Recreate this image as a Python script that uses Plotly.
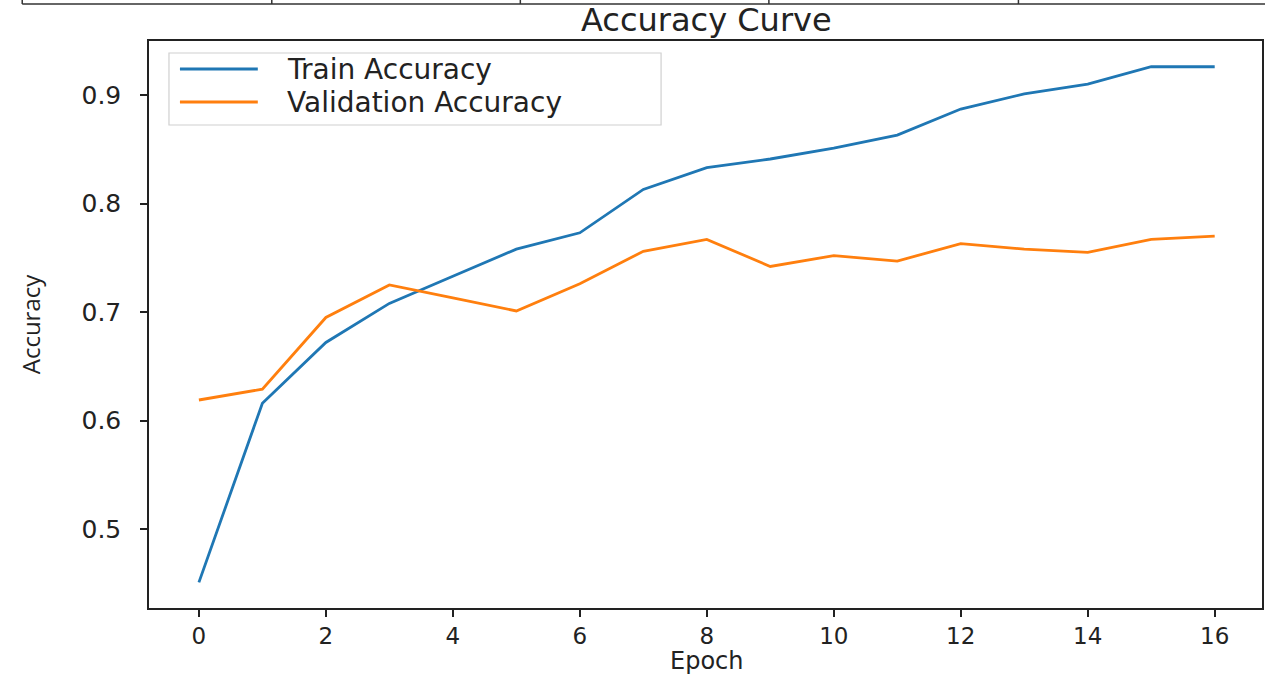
import plotly.graph_objects as go

epochs = list(range(17))
train_acc = [0.451, 0.616, 0.672, 0.708, 0.733, 0.758, 0.773, 0.813, 0.833, 0.841,
             0.851, 0.863, 0.887, 0.901, 0.910, 0.926, 0.926]
val_acc = [0.619, 0.629, 0.695, 0.725, 0.713, 0.701, 0.726, 0.756, 0.767, 0.742,
           0.752, 0.747, 0.763, 0.758, 0.755, 0.767, 0.770]
series_names = ["Train Accuracy", "Validation Accuracy"]
series_colors = ["#1f77b4", "#ff7f0e"]
x_ticks = list(range(0, 17, 2))
y_ticks = [0.5, 0.6, 0.7, 0.8, 0.9]

W, H = 1267, 677
L, R, T, B = 149, 3, 41, 69
PW, PH = W - L - R, H - T - B


def px(x):
    return (x - L) / PW


def py(y):
    return (H - B - y) / PH


fig = go.Figure()
for name, ys, col in zip(series_names, [train_acc, val_acc], series_colors):
    fig.add_trace(go.Scatter(x=epochs, y=ys, mode="lines", name=name,
                             line=dict(color=col, width=2.8), showlegend=False))

shapes = []
annotations = []

# custom legend (matplotlib style)
shapes.append(dict(type="rect", xref="paper", yref="paper",
                   x0=px(169), x1=px(662), y0=py(125), y1=py(53),
                   line=dict(color="#d0d0d0", width=1.2), fillcolor="rgba(255,255,255,0.8)",
                   layer="above"))
for i, (name, col) in enumerate(zip(series_names, series_colors)):
    yy = 69 + i * 33
    shapes.append(dict(type="line", xref="paper", yref="paper",
                       x0=px(180), x1=px(258), y0=py(yy), y1=py(yy),
                       line=dict(color=col, width=2.8), layer="above"))
    annotations.append(dict(text=name, xref="paper", yref="paper", x=px(285), y=py(yy),
                            xanchor="left", yanchor="middle", showarrow=False,
                            font=dict(family="DejaVu Sans", size=28, color="#222222")))

# table fragment at very top of the image
shapes.append(dict(type="line", xref="paper", yref="paper",
                   x0=px(22), x1=px(1267), y0=py(4), y1=py(4),
                   line=dict(color="#333333", width=1.5)))
for vx in [22, 272, 521, 770, 1020]:
    shapes.append(dict(type="line", xref="paper", yref="paper",
                       x0=px(vx), x1=px(vx), y0=py(0), y1=py(4),
                       line=dict(color="#333333", width=1.5)))

# title
annotations.append(dict(text="Accuracy Curve", xref="paper", yref="paper",
                        x=px(708), y=py(20), xanchor="center", yanchor="middle",
                        showarrow=False,
                        font=dict(family="DejaVu Sans", size=32, color="#222222")))

# x-axis title placed explicitly
annotations.append(dict(text="Epoch", xref="paper", yref="paper",
                        x=px(708), y=py(661), xanchor="center", yanchor="middle",
                        showarrow=False,
                        font=dict(family="DejaVu Sans", size=24, color="#222222")))

fig.update_layout(
    width=W, height=H,
    margin=dict(l=L, r=R, t=T, b=B, pad=0),
    plot_bgcolor="white", paper_bgcolor="white",
    shapes=shapes, annotations=annotations,
    showlegend=False,
)
fig.update_xaxes(
    range=[-0.786, 16.745], tickmode="array", tickvals=x_ticks,
    ticktext=[str(v) for v in x_ticks],
    ticks="outside", ticklen=7, tickwidth=1.5, tickcolor="#222222",
    showline=True, linecolor="#222222", linewidth=1.5, mirror=True,
    showgrid=False, zeroline=False,
    tickfont=dict(family="DejaVu Sans", size=23, color="#222222"),
)
fig.update_yaxes(
    range=[0.4274, 0.9497], tickmode="array", tickvals=y_ticks,
    ticktext=[f"{v:.1f}" for v in y_ticks],
    ticks="outside", ticklen=7, tickwidth=1.5, tickcolor="#222222",
    showline=True, linecolor="#222222", linewidth=1.5, mirror=True,
    showgrid=False, zeroline=False, ticklabelstandoff=14,
    tickfont=dict(family="DejaVu Sans", size=25, color="#222222"),
    title=dict(text="Accuracy", standoff=34,
               font=dict(family="Open Sans", size=24, color="#222222")),
)

fig.write_html(
    "out.html",
    config={"displayModeBar": False},
    post_script="document.body.style.margin='0';document.body.style.padding='0';"
                "document.documentElement.style.overflow='hidden';",
)
